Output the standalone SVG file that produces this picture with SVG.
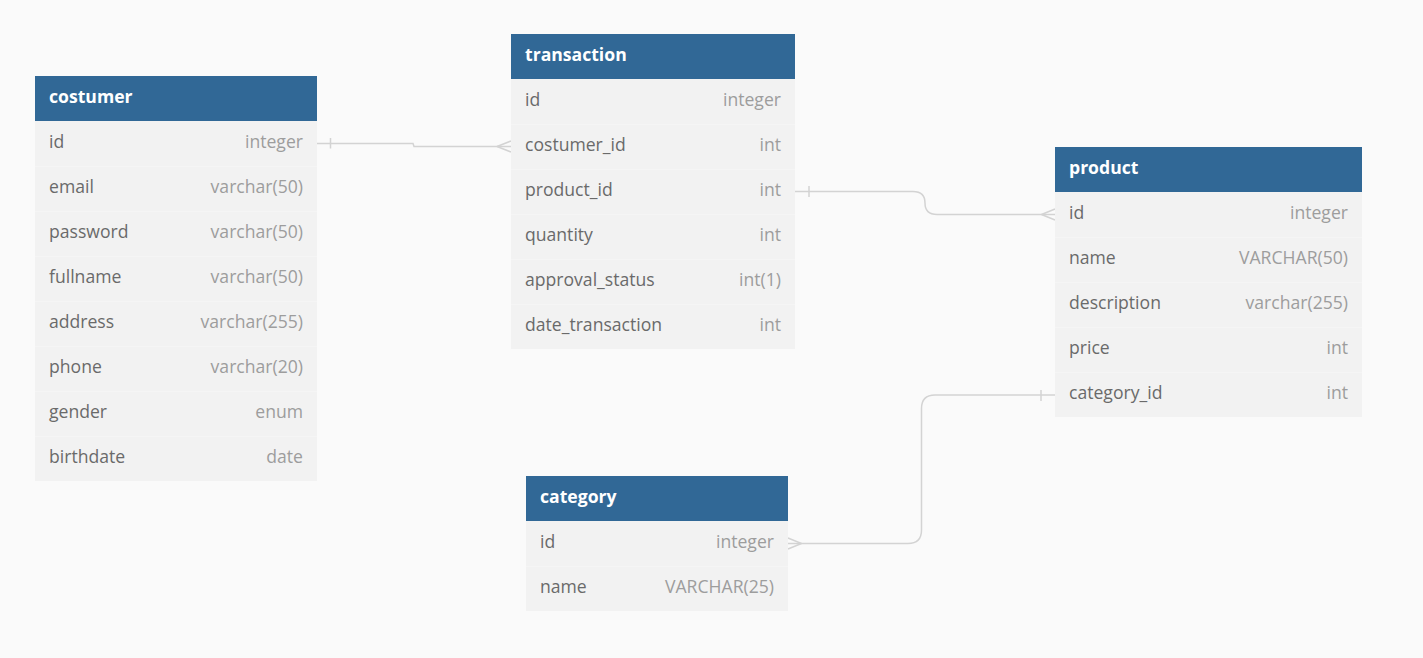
<svg xmlns="http://www.w3.org/2000/svg" width="1423" height="658" viewBox="0 0 1423 658">
<style>
.bg{fill:#fafafa}
.hd{fill:#316896}
.row{fill:#f2f2f2}
.sep{stroke:#f5f5f5;stroke-width:1}
.ht{font-family:"Open Sans",sans-serif;font-weight:bold;font-size:17.6px;fill:#ffffff}
.fn{font-family:"Open Sans",sans-serif;font-size:17.6px;fill:#6a6a6a}
.ft{font-family:"Open Sans",sans-serif;font-size:17.6px;fill:#9d9d9d;text-anchor:end}
.ln{fill:none;stroke:#d3d3d3;stroke-width:1.5}
</style>
<rect class="bg" x="0" y="0" width="1423" height="658"/>
<g id="connectors">
  <path class="ln" d="M317,143.5 H413 L414,146.5 H511"/>
  <path class="ln" d="M330.5,138 V148.5"/>
  <path class="ln" d="M497,146.5 L511,141 M497,146.5 L511,152"/>
  <path class="ln" d="M795,191.5 H913 Q925,191.5 925,203 Q925,214.5 937,214.5 H1055"/>
  <path class="ln" d="M809,186 V197"/>
  <path class="ln" d="M1041.5,214.5 L1055,209 M1041.5,214.5 L1055,220"/>
  <path class="ln" d="M788,543.5 H908 Q921.5,543.5 921.5,530 V408.5 Q921.5,395 935,395 H1055"/>
  <path class="ln" d="M1041,390 V401"/>
  <path class="ln" d="M788,538 L801.5,543.5 L788,549"/>
</g>
<g id="costumer">
  <rect class="hd" x="35" y="76" width="282" height="45"/>
  <text class="ht" x="49" y="102.5">costumer</text>
  <rect class="row" x="35" y="121" width="282" height="360"/>
  <path class="sep" d="M35,166.5H317M35,211.5H317M35,256.5H317M35,301.5H317M35,346.5H317M35,391.5H317M35,436.5H317"/>
  <text class="fn" x="49" y="147.5">id</text><text class="ft" x="303" y="147.5">integer</text>
  <text class="fn" x="49" y="192.5">email</text><text class="ft" x="303" y="192.5">varchar(50)</text>
  <text class="fn" x="49" y="237.5">password</text><text class="ft" x="303" y="237.5">varchar(50)</text>
  <text class="fn" x="49" y="282.5">fullname</text><text class="ft" x="303" y="282.5">varchar(50)</text>
  <text class="fn" x="49" y="327.5">address</text><text class="ft" x="303" y="327.5">varchar(255)</text>
  <text class="fn" x="49" y="372.5">phone</text><text class="ft" x="303" y="372.5">varchar(20)</text>
  <text class="fn" x="49" y="417.5">gender</text><text class="ft" x="303" y="417.5">enum</text>
  <text class="fn" x="49" y="462.5">birthdate</text><text class="ft" x="303" y="462.5">date</text>
</g>
<g id="transaction">
  <rect class="hd" x="511" y="34" width="284" height="45"/>
  <text class="ht" x="525" y="60.5">transaction</text>
  <rect class="row" x="511" y="79" width="284" height="270"/>
  <path class="sep" d="M511,124.5H795M511,169.5H795M511,214.5H795M511,259.5H795M511,304.5H795"/>
  <text class="fn" x="525" y="105.5">id</text><text class="ft" x="781" y="105.5">integer</text>
  <text class="fn" x="525" y="150.5">costumer_id</text><text class="ft" x="781" y="150.5">int</text>
  <text class="fn" x="525" y="195.5">product_id</text><text class="ft" x="781" y="195.5">int</text>
  <text class="fn" x="525" y="240.5">quantity</text><text class="ft" x="781" y="240.5">int</text>
  <text class="fn" x="525" y="285.5">approval_status</text><text class="ft" x="781" y="285.5">int(1)</text>
  <text class="fn" x="525" y="330.5">date_transaction</text><text class="ft" x="781" y="330.5">int</text>
</g>
<g id="product">
  <rect class="hd" x="1055" y="147" width="307" height="45"/>
  <text class="ht" x="1069" y="173.5">product</text>
  <rect class="row" x="1055" y="192" width="307" height="225"/>
  <path class="sep" d="M1055,237.5H1362M1055,282.5H1362M1055,327.5H1362M1055,372.5H1362"/>
  <text class="fn" x="1069" y="218.5">id</text><text class="ft" x="1348" y="218.5">integer</text>
  <text class="fn" x="1069" y="264">name</text><text class="ft" x="1348" y="264">VARCHAR(50)</text>
  <text class="fn" x="1069" y="309">description</text><text class="ft" x="1348" y="309">varchar(255)</text>
  <text class="fn" x="1069" y="354">price</text><text class="ft" x="1348" y="354">int</text>
  <text class="fn" x="1069" y="399">category_id</text><text class="ft" x="1348" y="399">int</text>
</g>
<g id="category">
  <rect class="hd" x="526" y="476" width="262" height="45"/>
  <text class="ht" x="540" y="502.5">category</text>
  <rect class="row" x="526" y="521" width="262" height="90"/>
  <path class="sep" d="M526,566.5H788"/>
  <text class="fn" x="540" y="547.5">id</text><text class="ft" x="774" y="547.5">integer</text>
  <text class="fn" x="540" y="592.5">name</text><text class="ft" x="774" y="592.5">VARCHAR(25)</text>
</g>
</svg>
